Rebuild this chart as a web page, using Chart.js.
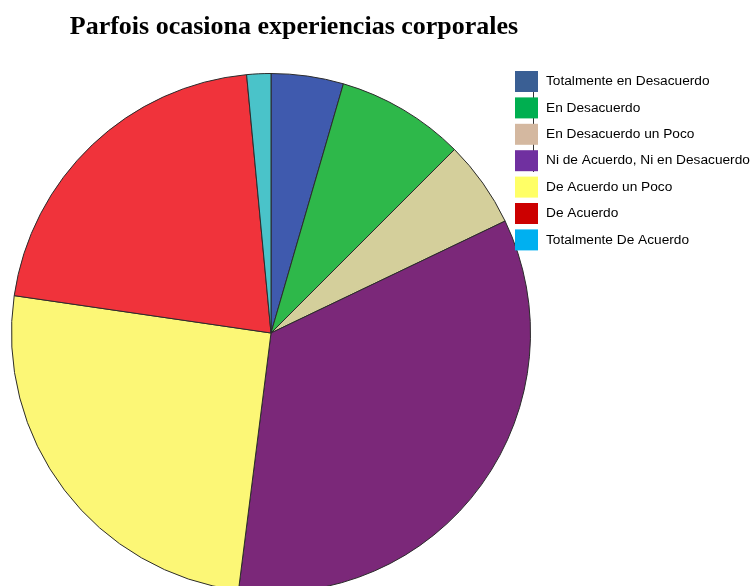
<!DOCTYPE html>
<html>
<head>
<meta charset="utf-8">
<script src="https://cdn.jsdelivr.net/npm/chart.js@4/dist/chart.umd.min.js"></script>
<style>
  html, body { margin: 0; padding: 0; background: #fff; overflow: hidden; }
  #wrap { width: 755px; height: 600px; position: relative; }
</style>
</head>
<body>
<div id="wrap"><canvas id="c" width="755" height="600"></canvas></div>
<script>
const titleText = 'Parfois ocasiona experiencias corporales';
const categories = [
  'Totalmente en Desacuerdo',
  'En Desacuerdo',
  'En Desacuerdo un Poco',
  'Ni de Acuerdo, Ni en Desacuerdo',
  'De Acuerdo un Poco',
  'De Acuerdo',
  'Totalmente De Acuerdo'
];
// share of answers, percent
const values = [4.5, 8.0, 5.4, 34.1, 25.3, 21.2, 1.5];
const sliceColors = ['#3F5AAE', '#2EB84A', '#D4CF9B', '#7B2879', '#FCF776', '#F0333B', '#4AC3C9'];
const legendColors = ['#3A5F94', '#00AF50', '#D4B8A0', '#7030A0', '#FFFF66', '#CC0000', '#00B0F0'];

// title and legend drawn on the canvas beside the pie
const sidePlugin = {
  id: 'side',
  afterDraw(chart) {
    const ctx = chart.ctx;
    ctx.save();
    ctx.fillStyle = '#000';
    ctx.font = 'bold 26px "Liberation Serif", serif';
    ctx.textAlign = 'center';
    ctx.textBaseline = 'alphabetic';
    ctx.fillText(titleText, 294, 34);

    // thin leader line behind the legend boxes
    ctx.strokeStyle = '#333';
    ctx.lineWidth = 1;
    ctx.beginPath();
    ctx.moveTo(533.5, 82);
    ctx.lineTo(533.5, 172);
    ctx.stroke();

    ctx.font = '13.7px "Liberation Sans", Arial, sans-serif';
    ctx.textAlign = 'left';
    ctx.textBaseline = 'middle';
    categories.forEach((name, i) => {
      const y = 71 + i * 26.4;
      ctx.fillStyle = legendColors[i];
      ctx.fillRect(515, y, 23, 21);
      ctx.fillStyle = '#000';
      ctx.fillText(name, 546, y + 10.5);
    });
    ctx.restore();
  }
};

new Chart(document.getElementById('c'), {
  type: 'pie',
  data: {
    labels: categories,
    datasets: [{
      data: values,
      backgroundColor: sliceColors,
      borderColor: '#2b2b2b',
      borderWidth: 1,
      hoverOffset: 0
    }]
  },
  options: {
    responsive: false,
    animation: false,
    events: [],
    layout: { padding: { left: 11, right: 224, top: 73, bottom: 7 } },
    plugins: {
      legend: { display: false },
      title: { display: false },
      tooltip: { enabled: false }
    }
  },
  plugins: [sidePlugin]
});
</script>
</body>
</html>
